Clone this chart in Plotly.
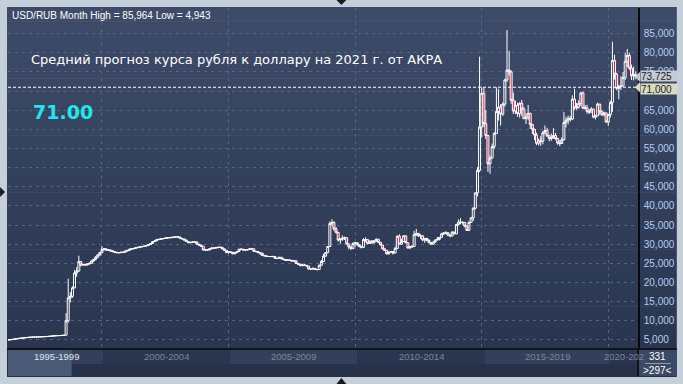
import plotly.graph_objects as go
import pandas as pd

# ---------------- data (monthly USD/RUB) ----------------
first_month = "1996-05-01"
first_open = 4.97
closes = [
    5.05, 5.11, 5.19, 5.30, 5.37, 5.45, 5.51, 5.56,                                   # 1996 May-Dec
    5.63, 5.68, 5.73, 5.76, 5.78, 5.78, 5.80, 5.82, 5.86, 5.88, 5.92, 5.96,           # 1997
    6.03, 6.07, 6.11, 6.13, 6.16, 6.20, 6.24, 10.0, 16.0, 16.4, 18.6, 22.5,           # 1998
    23.0, 25.5, 24.6, 24.7, 24.6, 24.8, 25.0, 25.6, 26.0, 26.6, 27.2, 27.8,           # 1999
    28.6, 28.8, 28.5, 28.5, 28.3, 28.1, 27.9, 27.8, 27.8, 27.9, 27.9, 28.2,           # 2000
    28.4, 28.7, 28.8, 28.9, 29.1, 29.2, 29.3, 29.4, 29.5, 29.7, 29.9, 30.2,           # 2001
    30.7, 30.9, 31.2, 31.3, 31.4, 31.5, 31.6, 31.7, 31.7, 31.8, 31.9, 31.9,           # 2002
    31.9, 31.5, 31.4, 31.1, 30.7, 30.4, 30.5, 30.6, 30.6, 30.0, 29.8, 29.5,           # 2003
    28.5, 28.5, 28.5, 28.8, 29.0, 29.0, 29.1, 29.2, 29.2, 28.8, 28.4, 27.8,           # 2004
    28.0, 27.9, 27.5, 27.8, 28.1, 28.7, 28.7, 28.5, 28.5, 28.6, 28.8, 28.8,           # 2005
    28.1, 28.1, 27.8, 27.7, 27.1, 27.0, 26.8, 26.8, 26.8, 26.8, 26.3, 26.3,           # 2006
    26.6, 26.2, 26.0, 25.8, 25.9, 25.8, 25.6, 25.7, 25.0, 24.8, 24.4, 24.6,           # 2007
    24.5, 24.3, 23.5, 23.5, 23.7, 23.4, 23.4, 24.5, 25.5, 26.9, 27.8, 29.4,           # 2008
    35.4, 35.7, 34.0, 33.1, 31.1, 31.3, 31.6, 31.7, 30.1, 29.3, 28.9, 30.2,           # 2009
    30.4, 29.9, 29.4, 29.2, 31.2, 31.2, 30.2, 30.8, 30.4, 30.9, 31.3, 30.5,           # 2010
    29.8, 28.8, 28.4, 27.5, 27.9, 28.1, 27.7, 28.9, 32.1, 30.0, 30.7, 32.2,           # 2011
    30.4, 29.0, 29.3, 29.4, 32.5, 32.8, 32.2, 32.2, 31.1, 31.5, 31.0, 30.4,           # 2012
    30.0, 30.6, 31.1, 31.3, 31.8, 32.7, 32.9, 33.0, 32.4, 32.2, 33.2, 32.7,           # 2013
    35.2, 35.8, 35.7, 35.7, 34.7, 33.6, 35.7, 36.9, 39.4, 43.4, 49.3, 60.6,           # 2014
    69.4, 61.5, 58.4, 51.0, 52.5, 55.5, 58.9, 64.7, 65.8, 64.0, 66.6, 72.9,           # 2015
    75.5, 75.0, 67.6, 64.8, 66.3, 64.1, 66.8, 65.3, 62.8, 63.2, 64.2, 61.3,           # 2016
    60.0, 58.5, 56.4, 57.0, 56.9, 59.1, 59.7, 58.3, 57.6, 57.8, 58.4, 57.6,           # 2017
    56.4, 56.3, 57.3, 61.8, 62.4, 62.8, 62.7, 67.9, 65.6, 65.8, 66.8, 69.5,           # 2018
    65.5, 65.6, 64.7, 64.5, 65.3, 63.2, 63.5, 66.6, 64.6, 63.8, 64.3, 61.9,           # 2019
    63.9, 67.0, 78.0, 74.4, 70.7, 71.2, 71.3, 73.5, 77.8, 79.3, 76.0, 74.0,           # 2020
    74.3, 73.725,                                                                     # 2021 Jan-Feb
]
highs = [
    5.07, 5.13, 5.21, 5.32, 5.40, 5.47, 5.53, 5.59,
    5.65, 5.70, 5.75, 5.77, 5.79, 5.79, 5.81, 5.84, 5.87, 5.90, 5.93, 5.98,
    6.05, 6.09, 6.12, 6.14, 6.18, 6.21, 6.25, 12.0, 21.0, 17.5, 19.0, 23.3,
    24.0, 27.0, 25.6, 25.0, 24.9, 25.0, 25.2, 25.8, 26.2, 26.9, 27.4, 28.0,
    29.5, 29.0, 28.9, 28.7, 28.6, 28.4, 28.2, 28.0, 27.9, 28.0, 28.0, 28.3,
    28.5, 28.8, 28.9, 29.0, 29.2, 29.3, 29.4, 29.5, 29.6, 29.8, 30.0, 30.3,
    30.8, 31.0, 31.3, 31.4, 31.5, 31.6, 31.7, 31.8, 31.8, 31.9, 32.0, 32.0,
    32.0, 31.9, 31.6, 31.4, 31.2, 30.8, 30.6, 30.7, 30.8, 30.7, 30.1, 29.9,
    29.5, 28.7, 28.6, 28.9, 29.2, 29.1, 29.2, 29.3, 29.3, 29.3, 28.8, 28.4,
    28.2, 28.1, 28.0, 27.9, 28.2, 28.7, 28.9, 28.7, 28.6, 28.7, 28.9, 28.9,
    28.8, 28.3, 28.1, 27.8, 27.7, 27.2, 27.0, 26.9, 26.9, 27.0, 26.8, 26.4,
    26.7, 26.6, 26.3, 26.0, 26.0, 26.0, 25.8, 25.9, 25.7, 25.0, 24.9, 24.7,
    24.8, 24.6, 24.3, 23.7, 23.9, 23.8, 23.5, 24.7, 25.9, 27.5, 27.9, 29.4,
    36.0, 36.5, 36.0, 34.5, 33.2, 31.6, 32.3, 32.0, 31.8, 30.1, 29.5, 30.5,
    30.6, 30.5, 30.0, 29.5, 31.6, 31.8, 31.3, 31.0, 31.1, 31.1, 31.5, 31.4,
    30.6, 29.8, 28.9, 28.4, 28.2, 28.3, 28.1, 29.4, 32.3, 32.6, 31.4, 32.3,
    32.3, 30.4, 29.6, 29.8, 33.5, 34.0, 33.0, 32.6, 32.2, 31.6, 31.7, 31.3,
    30.6, 30.7, 31.2, 31.9, 31.9, 33.0, 33.2, 33.4, 33.1, 32.6, 33.3, 33.2,
    35.3, 36.5, 36.8, 36.0, 35.8, 35.0, 36.0, 37.0, 39.7, 43.5, 50.1, 79.0,
    71.0, 70.8, 65.0, 58.5, 53.2, 56.3, 59.3, 71.0, 70.6, 66.6, 67.0, 73.2,
    85.96, 80.5, 75.4, 69.6, 67.5, 67.0, 67.1, 67.7, 65.8, 64.2, 66.4, 64.3,
    61.0, 60.2, 59.1, 57.6, 58.2, 59.6, 61.0, 60.4, 58.6, 58.9, 60.3, 59.1,
    57.8, 57.2, 57.9, 64.5, 63.3, 63.6, 63.5, 68.9, 70.6, 66.9, 67.6, 69.8,
    69.9, 66.4, 66.4, 65.3, 65.8, 65.4, 63.8, 67.0, 66.5, 65.0, 64.6, 64.4,
    64.0, 67.5, 82.9, 79.5, 74.8, 71.7, 73.9, 75.0, 79.9, 81.0, 80.0, 76.9,
    76.4, 75.2,
]
lows = [
    4.94, 5.04, 5.10, 5.18, 5.29, 5.36, 5.44, 5.50,
    5.55, 5.62, 5.67, 5.72, 5.75, 5.77, 5.77, 5.79, 5.81, 5.85, 5.87, 5.91,
    5.96, 6.02, 6.06, 6.10, 6.12, 6.15, 6.19, 6.23, 9.5, 14.8, 16.0, 18.5,
    21.5, 22.8, 24.2, 24.3, 24.3, 24.4, 24.7, 24.9, 25.4, 25.8, 26.4, 27.0,
    27.7, 28.4, 28.3, 28.3, 28.1, 27.9, 27.7, 27.6, 27.6, 27.7, 27.8, 27.8,
    28.1, 28.3, 28.6, 28.7, 28.8, 29.0, 29.1, 29.2, 29.3, 29.4, 29.6, 29.8,
    30.1, 30.6, 30.8, 31.1, 31.2, 31.3, 31.4, 31.5, 31.6, 31.6, 31.7, 31.7,
    31.7, 31.4, 31.3, 31.0, 30.6, 30.3, 30.3, 30.4, 30.5, 29.9, 29.6, 29.3,
    28.4, 28.4, 28.4, 28.5, 28.7, 28.9, 28.9, 29.0, 29.1, 28.7, 28.2, 27.7,
    27.6, 27.8, 27.4, 27.4, 27.7, 28.0, 28.5, 28.3, 28.2, 28.4, 28.5, 28.6,
    28.0, 27.9, 27.7, 27.2, 26.9, 26.8, 26.7, 26.7, 26.6, 26.6, 26.3, 26.1,
    26.3, 26.1, 25.9, 25.7, 25.7, 25.7, 25.5, 25.5, 24.9, 24.7, 24.3, 24.3,
    24.4, 24.2, 23.5, 23.4, 23.4, 23.4, 23.1, 23.3, 24.4, 25.3, 26.8, 27.7,
    29.4, 34.8, 33.5, 32.8, 30.7, 30.1, 30.9, 31.1, 29.9, 28.7, 28.5, 28.9,
    29.4, 29.6, 29.2, 28.9, 29.1, 30.5, 30.0, 30.1, 30.1, 30.2, 30.6, 30.3,
    29.7, 28.7, 28.2, 27.3, 27.3, 27.8, 27.3, 27.7, 28.8, 30.0, 30.1, 30.6,
    30.2, 28.9, 28.9, 29.1, 29.3, 32.2, 31.9, 31.4, 30.8, 30.4, 30.8, 30.3,
    29.9, 29.9, 30.4, 31.0, 31.0, 31.7, 32.4, 32.6, 32.1, 31.8, 32.0, 32.6,
    32.7, 34.9, 35.2, 35.1, 34.4, 33.5, 33.8, 35.6, 36.1, 39.1, 42.5, 48.9,
    57.9, 60.6, 57.5, 48.9, 48.4, 52.4, 54.9, 58.9, 62.3, 61.0, 63.5, 66.0,
    72.4, 74.0, 66.7, 64.0, 64.0, 63.3, 63.1, 63.5, 62.7, 61.4, 62.5, 60.1,
    58.8, 57.2, 55.9, 55.8, 55.7, 56.1, 58.7, 58.0, 56.9, 57.0, 57.6, 57.2,
    56.0, 55.6, 56.8, 57.1, 60.5, 61.3, 62.0, 62.4, 65.1, 65.1, 65.4, 66.2,
    65.4, 65.2, 64.1, 64.0, 64.4, 62.9, 62.6, 63.5, 63.8, 63.5, 63.4, 61.8,
    60.9, 63.1, 64.6, 73.0, 70.2, 67.9, 70.3, 71.3, 72.9, 76.2, 75.5, 72.9,
    72.8, 73.1,
]
opens = [first_open] + closes[:-1]
dates = pd.date_range(first_month, periods=len(closes), freq="MS")

y_ticks = list(range(5, 90, 5))
# 70,000 sits fully behind the 71,000 price tag in the reference
y_ticktext = ["" if v == 70 else f"{v},000" for v in y_ticks]
period_labels = ["1995-1999", "2000-2004", "2005-2009", "2010-2014", "2015-2019", "2020-202"]
header_text = "USD/RUB Month High = 85,964 Low = 4,943"
title_text = "Средний прогноз курса рубля к доллару на 2021 г. от АКРА"
forecast_value = 71.0
forecast_label = "71.00"
last_price = 73.725
last_label = "73,725"
forecast_tag = "71,000"
counter_top = "331"
counter_bottom = ">297<"

# ---------------- layout geometry (pixels) ----------------
W, H = 683, 384
PL, PR, PT, PB = 8, 641, 8, 348


def fx(px):
    return (px - PL) / (PR - PL)


def fy(py):
    return (PB - py) / (PB - PT)


shapes = []


def rect(x0, y0, x1, y1, color, layer="below"):
    shapes.append(dict(type="rect", xref="paper", yref="paper",
                       x0=fx(x0), x1=fx(x1), y0=fy(y1), y1=fy(y0),
                       fillcolor=color, line=dict(width=0), layer=layer))


# gradient background of the chart panel
top_c = (62, 75, 104)
bot_c = (42, 54, 80)
n = 24
y_start, y_end = 7, 349
for i in range(n):
    t = i / (n - 1)
    c = tuple(round(top_c[k] + (bot_c[k] - top_c[k]) * t) for k in range(3))
    ya = y_start + (y_end - y_start) * i / n
    yb = y_start + (y_end - y_start) * (i + 1) / n + 0.6
    rect(7, ya, 680, yb, "rgb(%d,%d,%d)" % c)

# bottom strip
rect(7, 349, 680, 377, "#27324a")
seg_bounds = [8, 104, 231, 359, 487, 612, 641]
seg_cols = ["#33405b", "#2a3550", "#33405b", "#2a3550", "#33405b", "#2a3550"]
for i in range(len(seg_bounds) - 1):
    rect(seg_bounds[i], 350, seg_bounds[i + 1], 364, seg_cols[i])
rect(8, 350, 72, 376, "#4a5a76")
rect(642, 350, 680, 376, "#3b4964")
shapes.append(dict(type="line", xref="paper", yref="paper", x0=fx(7), x1=fx(680),
                   y0=fy(349), y1=fy(349), line=dict(color="#0a0a0a", width=1.5), layer="above"))
shapes.append(dict(type="line", xref="paper", yref="paper", x0=fx(641), x1=fx(641),
                   y0=fy(349), y1=fy(376), line=dict(color="#0a0a0a", width=1.5), layer="above"))
shapes.append(dict(type="line", xref="paper", yref="paper", x0=fx(648), x1=fx(674),
                   y0=fy(363.5), y1=fy(363.5), line=dict(color="#8d9ab0", width=1), layer="above"))

# forecast dotted line
shapes.append(dict(type="line", xref="paper", yref="y", x0=0, x1=1,
                   y0=forecast_value, y1=forecast_value,
                   line=dict(color="#ffffff", width=1, dash="3px,2px"), layer="above"))


# frame arrows
def tri(pts):
    p = "M " + " L ".join(f"{fx(a)},{fy(b)}" for a, b in pts) + " Z"
    shapes.append(dict(type="path", xref="paper", yref="paper", path=p,
                       fillcolor="#1a1a1a", line=dict(width=0), layer="above"))


tri([(338, 0), (348, 0), (343, 5)])
tri([(338, 384), (348, 384), (343, 378)])
tri([(0, 187), (0, 197), (5, 192)])

# tag pointers
for val, col in [(last_price, "#c6cad6"), (forecast_value, "#d9dcc3")]:
    shapes.append(dict(type="path", xref="paper", yref="y",
                       path=f"M {fx(643)},{val + 1.35} L {fx(638)},{val} L {fx(643)},{val - 1.35} Z",
                       fillcolor=col, line=dict(width=0), layer="above"))

fig = go.Figure()
fig.add_trace(go.Candlestick(
    x=dates, open=opens, high=highs, low=lows, close=closes,
    increasing=dict(line=dict(color="#ffffff", width=1), fillcolor="rgba(0,0,0,0)"),
    decreasing=dict(line=dict(color="#ffffff", width=1), fillcolor="#e3123c"),
    whiskerwidth=0, showlegend=False, hoverinfo="skip",
))

annotations = [
    dict(xref="paper", yref="paper", x=fx(10), y=fy(15), xanchor="left", yanchor="middle",
         text=header_text, showarrow=False,
         font=dict(family="Liberation Sans", size=10, color="#ffffff")),
    dict(xref="paper", yref="paper", x=fx(29), y=fy(59), xanchor="left", yanchor="middle",
         text=title_text, showarrow=False,
         font=dict(family="DejaVu Sans", size=13, color="#ffffff")),
    dict(xref="paper", yref="paper", x=fx(31), y=fy(112), xanchor="left", yanchor="middle",
         text="<b>" + forecast_label + "</b>", showarrow=False,
         font=dict(family="DejaVu Sans", size=19, color="#1ee6f2")),
    dict(xref="paper", yref="y", x=fx(643), y=last_price + 0.25, xanchor="left", yanchor="middle",
         text=last_label, showarrow=False, bgcolor="#c6cad6", width=36, height=10,
         borderpad=0, align="left",
         font=dict(family="Liberation Sans", size=10, color="#1a1a1a")),
    dict(xref="paper", yref="y", x=fx(643), y=forecast_value - 0.35, xanchor="left", yanchor="middle",
         text=forecast_tag, showarrow=False, bgcolor="#d9dcc3", width=36, height=10,
         borderpad=0, align="left",
         font=dict(family="Liberation Sans", size=10, color="#1a1a1a")),
    dict(xref="paper", yref="paper", x=fx(661), y=fy(357), xanchor="center", yanchor="middle",
         text=counter_top, showarrow=False,
         font=dict(family="Liberation Sans", size=10, color="#ffffff")),
    dict(xref="paper", yref="paper", x=fx(661), y=fy(370), xanchor="center", yanchor="middle",
         text=counter_bottom, showarrow=False,
         font=dict(family="Liberation Sans", size=10, color="#ffffff")),
]
label_x = [57, 167, 295, 423, 550, 605]
for i, lab in enumerate(period_labels):
    last = i == len(period_labels) - 1
    annotations.append(dict(
        xref="paper", yref="paper", x=fx(label_x[i]), y=fy(357),
        xanchor="left" if last else "center", yanchor="middle",
        text=lab, showarrow=False,
        font=dict(family="Liberation Sans", size=9.5,
                  color="#dfe6f0" if i == 0 else "#7c8699")))

fig.update_layout(
    width=W, height=H,
    margin=dict(l=PL, r=W - PR, t=PT, b=H - PB, pad=0),
    paper_bgcolor="#c5cfda",
    plot_bgcolor="rgba(0,0,0,0)",
    shapes=shapes,
    annotations=annotations,
    showlegend=False,
    boxgap=0, boxgroupgap=0,
    xaxis=dict(
        type="date", range=["1996-04-15", "2021-03-05"],
        rangeslider=dict(visible=False),
        showticklabels=False, ticks="",
        tick0="2000-01-01", dtick="M60",
        showgrid=True, gridcolor="#56657f", griddash="3px,4px", gridwidth=1,
        zeroline=False, showline=False,
    ),
    yaxis=dict(
        side="right", range=[2.9, 91.7],
        tickvals=y_ticks, ticktext=y_ticktext, ticks="",
        tickfont=dict(family="Liberation Sans", size=10, color="#b2cdf3"),
        showgrid=True, gridcolor="#56657f", griddash="3px,4px", gridwidth=1,
        zeroline=False, showline=True, linecolor="#0a0a0a", linewidth=1.5,
        ticklabelstandoff=2,
    ),
)

fig.write_html(
    "out.html",
    config={"displayModeBar": False},
    post_script="document.body.style.margin='0';document.body.style.background='#c5cfda';",
)
